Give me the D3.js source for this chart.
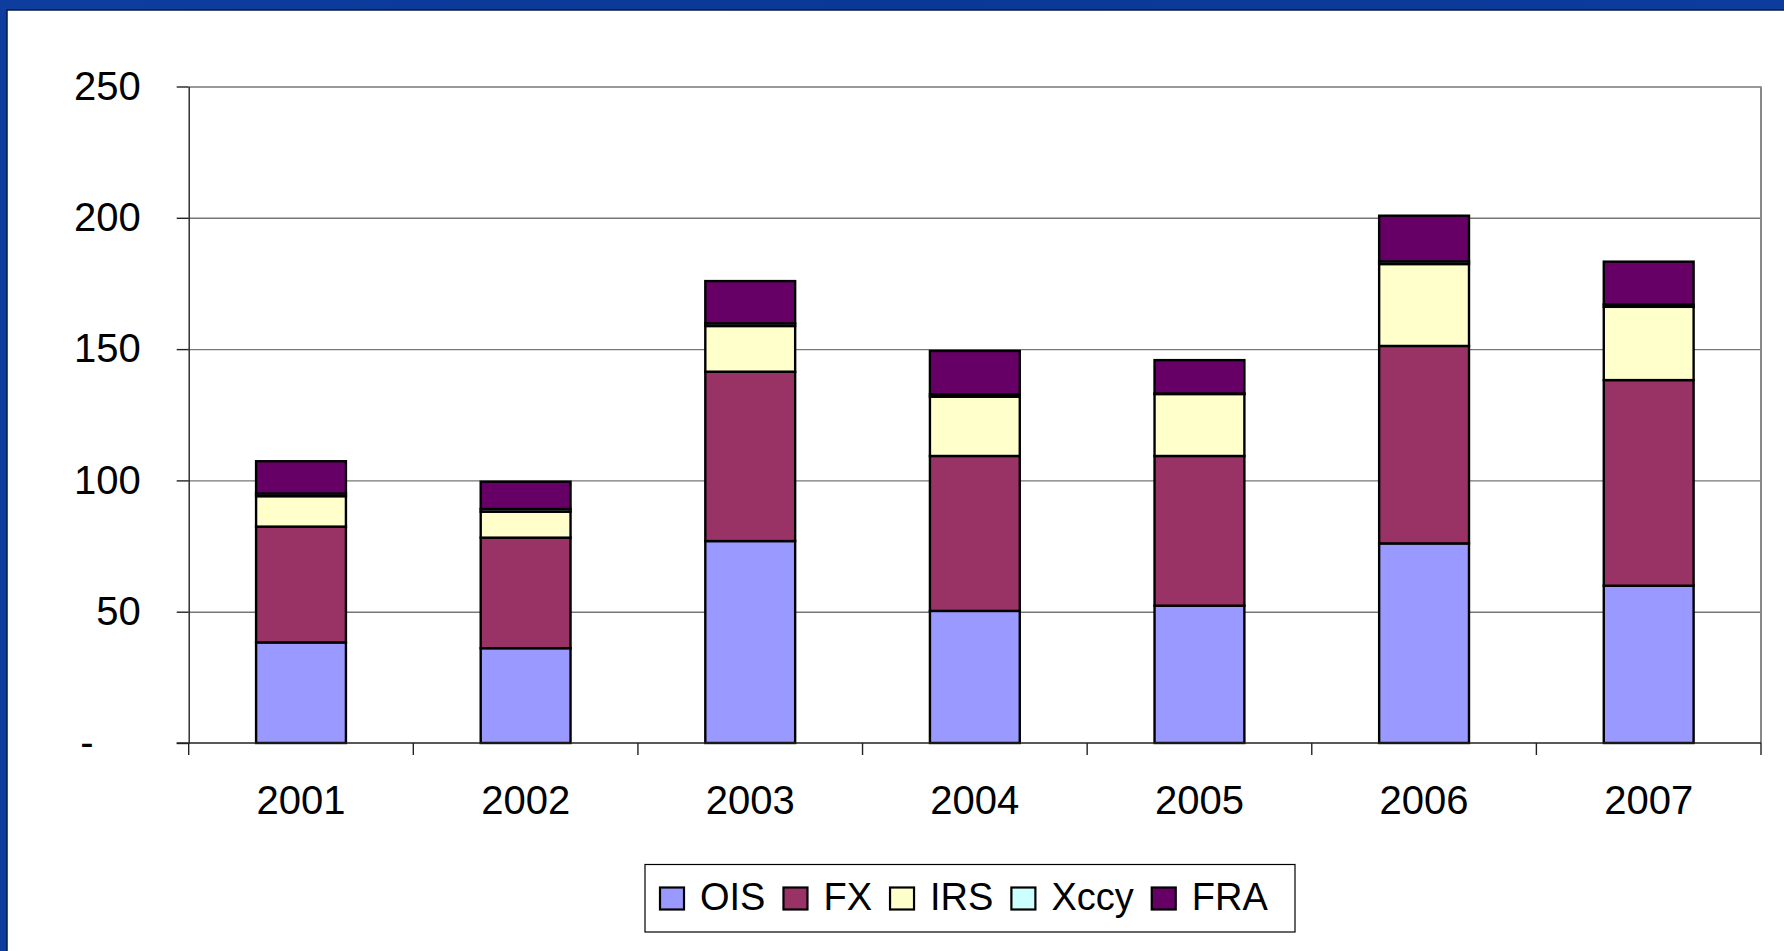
<!DOCTYPE html>
<html>
<head>
<meta charset="utf-8">
<script src="https://cdn.jsdelivr.net/npm/d3@7/dist/d3.min.js"></script>
<style>
  body { margin: 0; overflow: hidden; background: #0b3a9c; }
  text { font-family: "Liberation Sans", Arial, sans-serif; fill: #000; }
  .grid line { stroke: #777; stroke-width: 1.4; }
  .axis path, .axis line { stroke: #222; stroke-width: 1.4; }
</style>
</head>
<body>
<script>
(function(){
//data
var years = ["2001", "2002", "2003", "2004", "2005", "2006", "2007"];
var seriesNames = ["OIS", "FX", "IRS", "Xccy", "FRA"];
var seriesColors = ["#9999FF", "#993366", "#FFFFCC", "#CCFFFF", "#660066"];
var ois  = [38.3, 36.1, 76.9, 50.3, 52.3, 76.0, 59.9];
var fx   = [44.1, 42.1, 64.5, 59.0, 57.0, 75.2, 78.3];
var irs  = [11.6, 9.9, 17.4, 22.6, 23.6, 31.2, 27.9];
var xccy = [1.0, 1.0, 1.0, 0.9, 0.2, 1.0, 0.9];
var fra  = [12.3, 10.4, 16.1, 16.5, 12.7, 17.4, 16.3];
var yTicks = [0, 50, 100, 150, 200, 250];

window.onload = drawChart();

function drawChart(){
    var width = 1784,
        height = 951,
        left = 188.7,
        right = 1761,
        top = 86.5,
        bottom = 743;

    //build rows for the stack
    var rows = years.map(function(y, i){
        return {year: y, OIS: ois[i], FX: fx[i], IRS: irs[i], Xccy: xccy[i], FRA: fra[i]};
    });

    var svg = d3.select("body")
        .append("svg")
        .attr("width", width)
        .attr("height", height)
        .style("display", "block");

    //blue slide frame with a slight sheen
    var defs = svg.append("defs");
    var grad = defs.append("linearGradient")
        .attr("id", "blueFrame")
        .attr("x1", 0).attr("y1", 0).attr("x2", 1).attr("y2", 0);
    grad.append("stop").attr("offset", "0%").attr("stop-color", "#0d3d9e");
    grad.append("stop").attr("offset", "50%").attr("stop-color", "#0a3896");
    grad.append("stop").attr("offset", "100%").attr("stop-color", "#0c3c9c");

    svg.append("rect")
        .attr("width", width)
        .attr("height", height)
        .attr("fill", "url(#blueFrame)");

    //white slide panel
    svg.append("rect")
        .attr("x", 7)
        .attr("y", 10)
        .attr("width", width - 6)
        .attr("height", height - 9)
        .attr("fill", "#fff")
        .attr("stroke", "#0a1a40")
        .attr("stroke-width", 1.5);

    var x = d3.scaleBand()
        .domain(years)
        .range([left, right])
        .paddingInner(0.6)
        .paddingOuter(0.3);

    var y = d3.scaleLinear()
        .domain([0, 250])
        .range([bottom, top]);

    var color = d3.scaleOrdinal()
        .domain(seriesNames)
        .range(seriesColors);

    //gridlines
    svg.append("g")
        .attr("class", "grid")
        .attr("transform", "translate(" + left + ",0)")
        .call(d3.axisLeft(y).tickValues(yTicks.slice(1)).tickSize(-(right - left)).tickFormat(""))
        .call(function(g){ g.select(".domain").remove(); });

    //plot area right border
    svg.append("line")
        .attr("x1", right).attr("x2", right)
        .attr("y1", top).attr("y2", bottom)
        .attr("stroke", "#888")
        .attr("stroke-width", 2);

    //stacked bars
    var stacked = d3.stack().keys(seriesNames)(rows);

    svg.selectAll(".layer")
        .data(stacked)
        .enter()
        .append("g")
        .attr("class", "layer")
        .attr("fill", function(d){ return color(d.key); })
        .selectAll("rect")
        .data(function(d){ return d; })
        .enter()
        .append("rect")
        .attr("x", function(d){ return x(d.data.year); })
        .attr("width", x.bandwidth())
        .attr("y", function(d){ return y(d[1]); })
        .attr("height", function(d){ return y(d[0]) - y(d[1]); })
        .attr("stroke", "#000")
        .attr("stroke-width", 2.4);

    //y axis
    var yAxis = svg.append("g")
        .attr("class", "axis")
        .attr("transform", "translate(" + left + ",0)")
        .call(d3.axisLeft(y)
            .tickValues(yTicks)
            .tickSize(12)
            .tickPadding(36)
            .tickSizeOuter(0)
            .tickFormat(function(d){ return d === 0 ? "-" : d; }));
    yAxis.selectAll("text")
        .style("font-size", "40px")
        .attr("x", function(d){ return d === 0 ? -95 : -48; });

    //x axis labels
    var xAxis = svg.append("g")
        .attr("class", "axis")
        .attr("transform", "translate(0," + bottom + ")")
        .call(d3.axisBottom(x).tickSize(0).tickPadding(43).tickSizeOuter(0));
    xAxis.select(".domain")
        .attr("d", "M" + (left - 12) + ",0H" + right);
    xAxis.selectAll("text").style("font-size", "40px");

    //category boundary ticks
    var bounds = d3.range(years.length + 1).map(function(i){ return left + i * x.step(); });
    svg.selectAll(".xTick")
        .data(bounds)
        .enter()
        .append("line")
        .attr("class", "xTick")
        .attr("x1", function(d){ return d; })
        .attr("x2", function(d){ return d; })
        .attr("y1", bottom)
        .attr("y2", bottom + 12)
        .attr("stroke", "#222")
        .attr("stroke-width", 1.4);

    //legend
    var legend = svg.append("g").attr("class", "legend");
    legend.append("rect")
        .attr("x", 645)
        .attr("y", 864.5)
        .attr("width", 650)
        .attr("height", 67.5)
        .attr("fill", "#fff")
        .attr("stroke", "#000")
        .attr("stroke-width", 1.2);

    var lx = 660;
    seriesNames.forEach(function(name){
        legend.append("rect")
            .attr("x", lx)
            .attr("y", 887.5)
            .attr("width", 24)
            .attr("height", 22)
            .attr("fill", color(name))
            .attr("stroke", "#000")
            .attr("stroke-width", 2.2);
        var t = legend.append("text")
            .attr("x", lx + 40)
            .attr("y", 910)
            .style("font-size", "38px")
            .text(name);
        lx = lx + 40 + t.node().getComputedTextLength() + 18;
    });
};

})();
</script>
</body>
</html>
